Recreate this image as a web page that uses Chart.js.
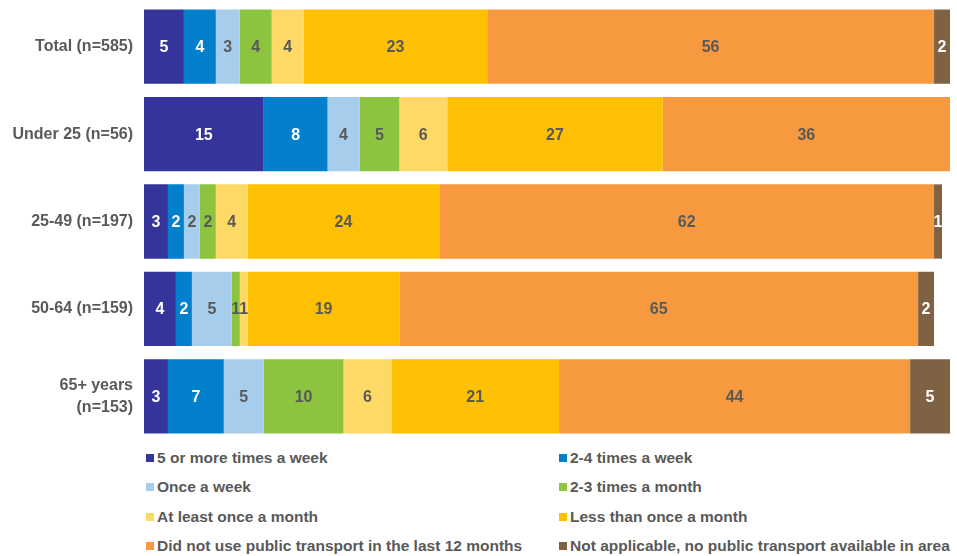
<!DOCTYPE html>
<html>
<head>
<meta charset="utf-8">
<script src="https://cdn.jsdelivr.net/npm/chart.js@4.4.0/dist/chart.umd.min.js"></script>
<style>
    body { margin: 0; background: #fff; font-family: "Liberation Sans", Arial, sans-serif; }
    #wrap { position: relative; width: 957px; height: 444px; }
    #legend {
        position: absolute; left: 146px; top: 449px;
        display: grid; grid-template-columns: 413px 400px; row-gap: 11.3px;
        font-weight: bold; font-size: 15.5px; color: #595959;
    }
    #legend div { display: flex; align-items: center; height: 18px; white-space: nowrap; }
    #legend span.box { width: 8px; height: 8px; margin-right: 3px; display: inline-block; }
</style>
</head>
<body>
<div id="wrap"><canvas id="grafica"></canvas></div>
<div id="legend"></div>
<script>
const grupos = ["Total (n=585)", "Under 25 (n=56)", "25-49 (n=197)", "50-64 (n=159)", ["65+ years", "(n=153)"]];

const series = [
    "5 or more times a week",
    "2-4 times a week",
    "Once a week",
    "2-3 times a month",
    "At least once a month",
    "Less than once a month",
    "Did not use public transport in the last 12 months",
    "Not applicable, no public transport available in area"
];

// one array per frequency, in the order of grupos
const cincoOMas   = [5, 15, 3, 4, 3];
const dosCuatro   = [4, 8, 2, 2, 7];
const unaSemana   = [3, 4, 2, 5, 5];
const dosTresMes  = [4, 5, 2, 1, 10];
const unaVezMes   = [4, 6, 4, 1, 6];
const menosMes    = [23, 27, 24, 19, 21];
const noUso       = [56, 36, 62, 65, 44];
const noAplica    = [2, 0, 1, 2, 5];

const valores = [cincoOMas, dosCuatro, unaSemana, dosTresMes, unaVezMes, menosMes, noUso, noAplica];
const colores = ["#34349a", "#0280cc", "#a7cdec", "#8cc43f", "#fed966", "#fec002", "#f79a3f", "#7f6243"];
const textoBlanco = [true, true, false, false, false, false, false, true];

const totalMax = Math.max(...grupos.map((g, i) => valores.reduce((s, v) => s + v[i], 0)));

const etiquetas = {
    id: "etiquetas",
    afterDatasetsDraw(chart) {
        const ctx = chart.ctx;
        ctx.save();
        ctx.font = "bold 16px 'Liberation Sans', Arial, sans-serif";
        ctx.textAlign = "center";
        ctx.textBaseline = "middle";
        chart.data.datasets.forEach((ds, d) => {
            chart.getDatasetMeta(d).data.forEach((bar, i) => {
                const v = ds.data[i];
                if (!v) return;
                ctx.fillStyle = textoBlanco[d] ? "#ffffff" : "#595959";
                ctx.fillText(v, (bar.x + bar.base) / 2, bar.y + 1);
            });
        });
        ctx.restore();
    }
};

grafica = new Chart(document.getElementById("grafica"), {
    type: "bar",
    data: {
        labels: grupos,
        datasets: series.map((s, d) => ({
            label: s,
            data: valores[d],
            backgroundColor: colores[d],
            borderWidth: 0,
            barPercentage: 0.85,
            categoryPercentage: 1
        }))
    },
    options: {
        indexAxis: "y",
        responsive: true,
        maintainAspectRatio: false,
        animation: false,
        layout: { padding: { top: 3, right: 7, bottom: 4, left: 0 } },
        plugins: { legend: { display: false }, tooltip: { enabled: false } },
        scales: {
            x: { stacked: true, min: 0, max: totalMax, display: false },
            y: {
                stacked: true,
                grid: { display: false },
                border: { display: false },
                afterFit(scale) {
                    scale.width = 144;
                    scale.paddingTop = 0;
                    scale.paddingBottom = 0;
                },
                ticks: {
                    color: "#595959",
                    padding: 3,
                    font: { family: "'Liberation Sans', Arial, sans-serif", size: 16, weight: "bold", lineHeight: 1.35 }
                }
            }
        }
    },
    plugins: [etiquetas]
});

const legend = document.getElementById("legend");
series.forEach((s, d) => {
    const item = document.createElement("div");
    item.innerHTML = `<span class="box" style="background:${colores[d]}"></span>${s}`;
    legend.appendChild(item);
});
</script>
</body>
</html>
